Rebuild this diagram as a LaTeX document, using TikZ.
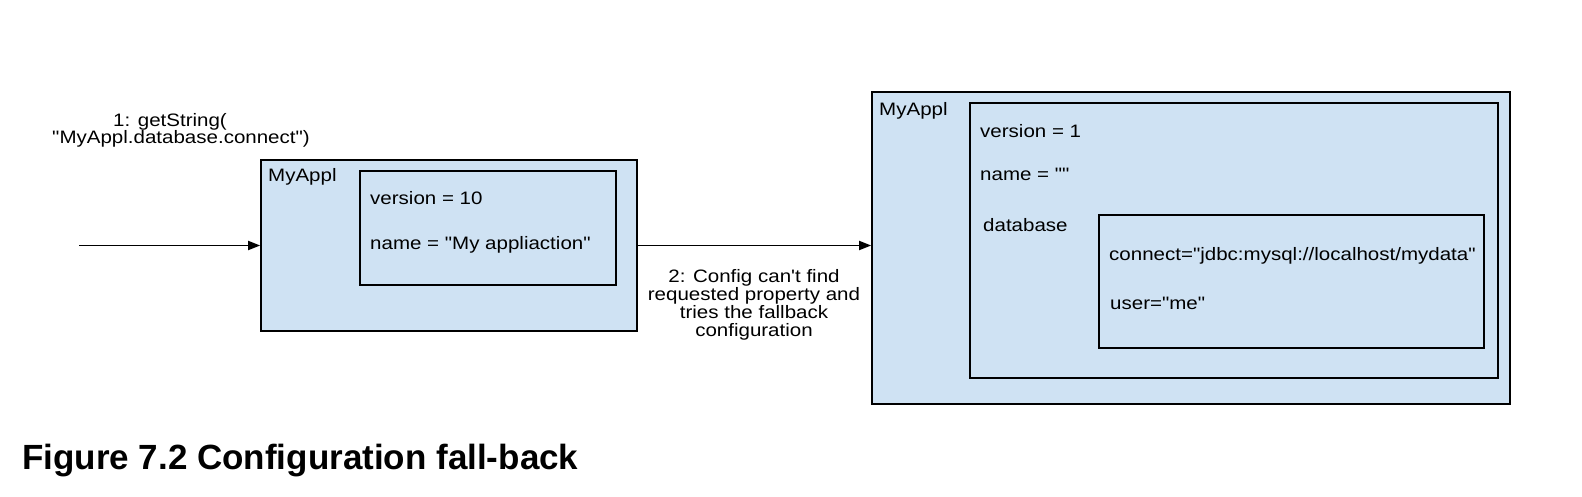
\documentclass[tikz,border=0pt]{standalone}
\usepackage{fontspec}
\setmainfont{Liberation Sans}[Ligatures=TeXOff]
\newfontfamily\diagfont{Liberation Sans}[Ligatures=TeXOff,FakeStretch=1.14]
\usetikzlibrary{arrows.meta}

\definecolor{boxblue}{RGB}{207,226,243}
\newcommand\tightlines{\lineskiplimit=-20pt\relax}
\tikzset{
  objbox/.style={shape=rectangle,draw=black,line width=1.6pt,fill=boxblue,inner sep=0pt},
  field/.style={anchor=base west,inner sep=0pt,font=\diagfont\fontsize{18}{18}\selectfont},
  call/.style={anchor=base,align=center,inner sep=0pt,font=\diagfont\fontsize{18}{17.8}\selectfont\tightlines},
  flow/.style={line width=1.8pt,-{Triangle[length=12pt,width=9pt]}}
}

\begin{document}
\begin{tikzpicture}[x=1pt,y=-1pt]
\useasboundingbox (0,0) rectangle (1582,497);
% the application config and its fallback
\path node (lbox) at (449,245.5) [objbox,minimum width=376pt,minimum height=171pt] {}
      node (lfields) at (488,228) [objbox,minimum width=256pt,minimum height=114pt] {}
      node (rbox) at (1191,248) [objbox,minimum width=638pt,minimum height=312pt] {}
      node (rfields) at (1234,240.5) [objbox,minimum width=528pt,minimum height=275pt] {}
      node (dbbox) at (1291.5,281.5) [objbox,minimum width=385pt,minimum height=133pt] {};
\node [field] (lname) at (268,182) {MyAppl};
\node [field] (lversion) at (370,205) {version = 10};
\node [field] (lappname) at (370,250) {name = "My appliaction"};
\node [field] (rname) at (879,116) {MyAppl};
\node [field] (rversion) at (980,138) {version = 1};
\node [field] (rappname) at (980,181) {name = ""};
\node [field] (dbname) at (983,232) {database};
\node [field] (dbconnect) at (1109,260) {connect="jdbc:mysql://localhost/mydata"};
\node [field] (dbuser) at (1110,309) {user="me"};
% calls
\coordinate (start) at (79,245.5);
\draw [flow] (start) -- (lbox.west);
\draw [flow] (lbox.east) -- (lbox.east -| rbox.west);
\node [call] (getstring) at (181,144) {1: getString(\hspace*{22pt}\\"MyAppl.database.connect")};
\node [call] (fallback) at (754,336) {2: Config can't find\\requested property and\\tries the fallback\\configuration};
\node [anchor=base west,inner sep=0pt,font=\bfseries\fontsize{35}{40}\selectfont] (caption) at (22,469) {Figure 7.2 Configuration fall-back};
\end{tikzpicture}
\end{document}
